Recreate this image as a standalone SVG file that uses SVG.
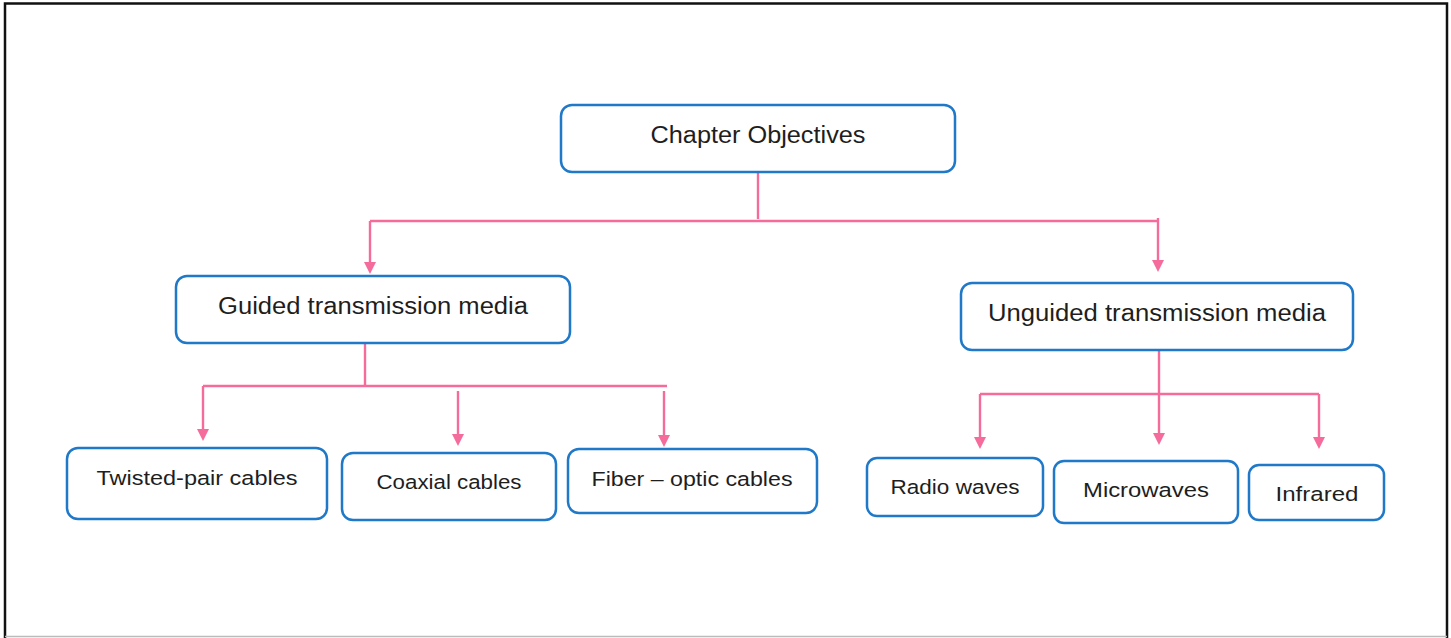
<svg xmlns="http://www.w3.org/2000/svg" width="1451" height="638" viewBox="0 0 1451 638">
<defs>
<style>
.node rect{fill:#fff;stroke:#1f78c8;stroke-width:2.5}
.node text{font-family:"Liberation Sans",Arial,sans-serif;fill:#1e1e1e;text-anchor:middle}
.big{font-size:23px}
.small{font-size:20.5px}
#connectors path{fill:none;stroke:#f56b9c;stroke-width:2.4}
#connectors polygon{fill:#f56b9c;stroke:none}
</style>
</defs>
<rect x="0" y="0" width="1451" height="638" fill="#fff"/>
<path d="M5,638 V3.5 H1447 V638" fill="none" stroke="#111" stroke-width="2.5"/>
<line x1="5" y1="636.5" x2="1447" y2="636.5" stroke="#bbb" stroke-width="1.5"/>
<g id="connectors">
<path d="M758,172 V219"/>
<path d="M370,221 H1158"/>
<path d="M370,221 V263"/>
<path d="M1158,218 V261"/>
<path d="M365,343 V386"/>
<path d="M203,386 H667"/>
<path d="M203,386 V430"/>
<path d="M458,391 V435"/>
<path d="M664,391 V436"/>
<path d="M1159,350 V434"/>
<path d="M980,394 H1319"/>
<path d="M980,394 V438"/>
<path d="M1319,394 V438"/>
<polygon points="364,262 376,262 370,274"/>
<polygon points="1152,260 1164,260 1158,272"/>
<polygon points="197,429 209,429 203,441"/>
<polygon points="452,434 464,434 458,446"/>
<polygon points="658,435 670,435 664,447"/>
<polygon points="1153,433 1165,433 1159,445"/>
<polygon points="974,437 986,437 980,449"/>
<polygon points="1313,437 1325,437 1319,449"/>
</g>
<g id="chapter-objectives" class="node"><rect x="561" y="105" width="394" height="67" rx="11"/><text class="big" x="758" y="143" textLength="215" lengthAdjust="spacingAndGlyphs">Chapter Objectives</text></g>
<g id="guided" class="node"><rect x="176" y="276" width="394" height="67" rx="11"/><text class="big" x="373" y="314" textLength="310" lengthAdjust="spacingAndGlyphs">Guided transmission media</text></g>
<g id="unguided" class="node"><rect x="961" y="283" width="392" height="67" rx="11"/><text class="big" x="1157" y="321" textLength="338" lengthAdjust="spacingAndGlyphs">Unguided transmission media</text></g>
<g id="twisted-pair" class="node"><rect x="67" y="448" width="260" height="71" rx="11"/><text class="small" x="197" y="485" textLength="201" lengthAdjust="spacingAndGlyphs">Twisted-pair cables</text></g>
<g id="coaxial" class="node"><rect x="342" y="453" width="214" height="67" rx="11"/><text class="small" x="449" y="489" textLength="145" lengthAdjust="spacingAndGlyphs">Coaxial cables</text></g>
<g id="fiber-optic" class="node"><rect x="568" y="449" width="249" height="64" rx="11"/><text class="small" x="692" y="486" textLength="201" lengthAdjust="spacingAndGlyphs">Fiber – optic cables</text></g>
<g id="radio-waves" class="node"><rect x="867" y="458" width="176" height="58" rx="10"/><text class="small" x="955" y="494" textLength="129" lengthAdjust="spacingAndGlyphs">Radio waves</text></g>
<g id="microwaves" class="node"><rect x="1054" y="461" width="184" height="62" rx="10"/><text class="small" x="1146" y="497" textLength="126" lengthAdjust="spacingAndGlyphs">Microwaves</text></g>
<g id="infrared" class="node"><rect x="1249" y="465" width="135" height="55" rx="10"/><text class="small" x="1317" y="501" textLength="83" lengthAdjust="spacingAndGlyphs">Infrared</text></g>
</svg>
